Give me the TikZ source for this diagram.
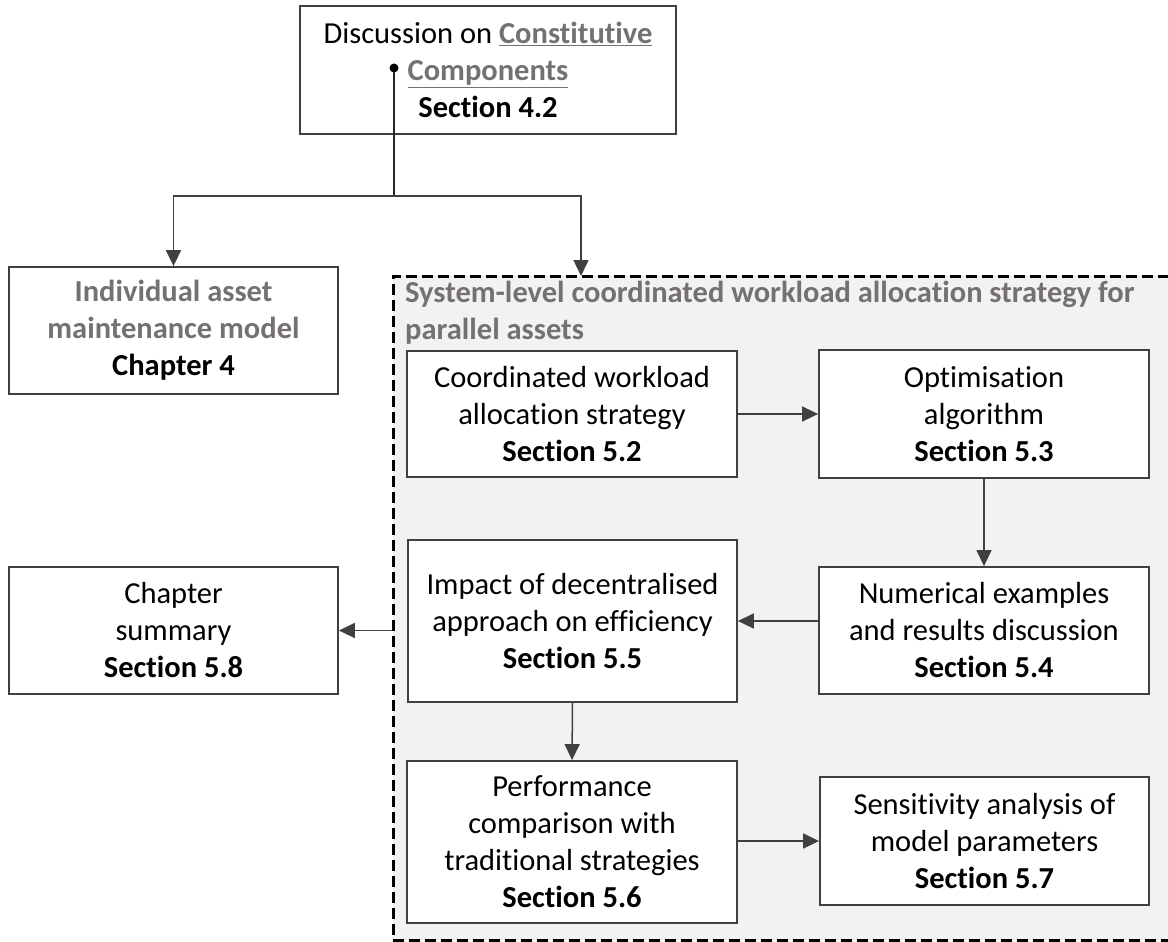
\documentclass[tikz,border=0pt]{standalone}
\usepackage{fontspec}
\setmainfont{Carlito}[Ligatures=NoCommon]
\usetikzlibrary{arrows.meta,calc}
\definecolor{edge}{HTML}{404040}
\definecolor{muted}{HTML}{767171}
\definecolor{panel}{HTML}{F2F2F2}
\newcommand{\muted}[1]{\textcolor{muted}{\textbf{#1}}}

\begin{document}
\begin{tikzpicture}[x=1pt,y=-1pt,
  txt/.style={font=\fontsize{30.5}{37}\selectfont},
  box/.style={txt, draw=edge, line width=1.8pt, fill=white, align=center, inner sep=0pt},
  arr/.style={draw=edge, line width=1.5pt, -{Triangle[length=16pt,width=15pt]}},
  panelbox/.style={draw=black, fill=panel, line width=3pt, dash pattern=on 11pt off 5pt, inner sep=0pt},
]
\clip (0,0) rectangle (1168,942);
\fill[white] (0,0) rectangle (1168,942);

% dashed panel for the system-level chapter
\node[panelbox, minimum width=800pt, minimum height=664pt] (sys) at (793,608) {};
\node[txt, anchor=north west, align=left, inner sep=0pt] (systitle) at (405,281)
  {\muted{System-level coordinated workload allocation strategy for}\\\muted{parallel assets}};

% boxes
\node[box, minimum width=376pt, minimum height=128pt] (top) at (488,70)
  {Discussion on \muted{\underline{Constitutive}}\\\muted{\underline{Components}}\\\textbf{Section 4.2}};
\node[box, minimum width=329pt, minimum height=127pt] (ind) at (173.5,330.5)
  {\muted{Individual asset}\\\muted{maintenance model}\\\textbf{Chapter 4}};
\node[box, minimum width=330pt, minimum height=126pt] (coord) at (572,414)
  {Coordinated workload\\allocation strategy\\\textbf{Section 5.2}};
\node[box, minimum width=330pt, minimum height=128pt] (opt) at (984,414)
  {Optimisation\\algorithm\\\textbf{Section 5.3}};
\node[box, minimum width=329pt, minimum height=162pt] (imp) at (572.5,621)
  {Impact of decentralised\\approach on efficiency\\\textbf{Section 5.5}};
\node[box, minimum width=330pt, minimum height=127pt] (num) at (984,630.5)
  {Numerical examples\\and results discussion\\\textbf{Section 5.4}};
\node[box, minimum width=330pt, minimum height=162pt] (perf) at (572,842)
  {Performance\\comparison with\\traditional strategies\\\textbf{Section 5.6}};
\node[box, minimum width=329pt, minimum height=128pt] (sens) at (984.5,841)
  {Sensitivity analysis of\\model parameters\\\textbf{Section 5.7}};
\node[box, minimum width=329pt, minimum height=127pt] (summ) at (173.5,630.5)
  {Chapter\\summary\\\textbf{Section 5.8}};

% split from the discussion box
\coordinate (dot) at (394,68);
\coordinate (split) at (394,196);
\coordinate (sysin) at (581,276);
\draw[line width=1.5pt, draw=black!85] (dot) -- (split);
\fill[black] (dot) circle (4.5pt);
\draw[arr] (split) -| (ind.north);
\draw[arr] (split) -| (sysin);

% flow inside the panel
\draw[arr] (coord.east) -- (opt.west);
\draw[arr] (opt.south) -- (num.north);
\draw[arr] (num.west |- imp.east) -- (imp.east);
\draw[arr] (imp.south) -- (perf.north);
\draw[arr] (perf.east |- sens.west) -- (sens.west);
\draw[arr] (sys.west |- summ.east) -- (summ.east);
\end{tikzpicture}
\end{document}
